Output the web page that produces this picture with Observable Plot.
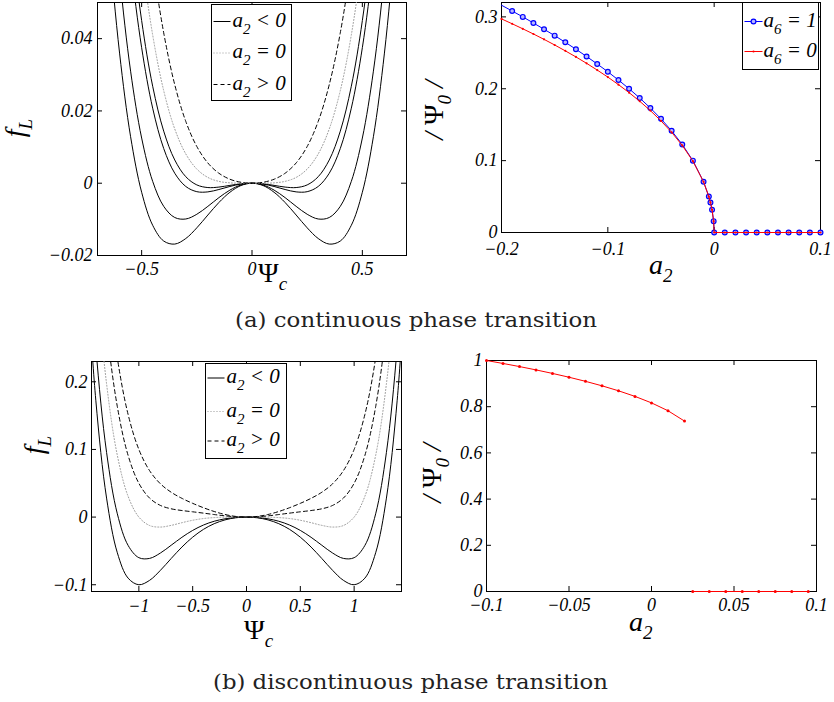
<!DOCTYPE html>
<html><head><meta charset="utf-8">
<script src="https://cdn.jsdelivr.net/npm/d3@7"></script>
<script src="https://cdn.jsdelivr.net/npm/@observablehq/plot@0.6"></script>
<style>
body{margin:0;background:#fff;}
#wrap{position:relative;width:834px;height:702px;overflow:hidden;background:#fff;}
</style></head><body><div id="wrap"></div>
<script>
// ---------- (a) left: Landau free energy, continuous transition ----------
const psiA = [-0.7,-0.65,-0.6,-0.55,-0.5,-0.45,-0.4,-0.35,-0.3,-0.25,-0.2,-0.15,-0.1,-0.05,0,0.05,0.1,0.15,0.2,0.25,0.3,0.35,0.4,0.45,0.5,0.55,0.6,0.65,0.7];
const fA_neg1 = [0.1127,0.06866,0.036,0.01286,-0.0025,-0.01164,-0.016,-0.01684,-0.0153,-0.01234,-0.0088,-0.00534,-0.0025,-0.00064,0,-0.00064,-0.0025,-0.00534,-0.0088,-0.01234,-0.0153,-0.01684,-0.016,-0.01164,-0.0025,0.01286,0.036,0.06866,0.1127];
const fA_neg2 = [0.1421,0.094,0.0576,0.031,0.0125,0.00051,-0.0064,-0.00949,-0.0099,-0.00859,-0.0064,-0.00399,-0.0019,-0.00049,0,-0.00049,-0.0019,-0.00399,-0.0064,-0.00859,-0.0099,-0.00949,-0.0064,0.00051,0.0125,0.031,0.0576,0.094,0.1421];
const fA_neg3 = [0.1911,0.13626,0.0936,0.06126,0.0375,0.02076,0.0096,0.00276,-0.0009,-0.00234,-0.0024,-0.00174,-0.0009,-0.00024,0,-0.00024,-0.0009,-0.00174,-0.0024,-0.00234,-0.0009,0.00276,0.0096,0.02076,0.0375,0.06126,0.0936,0.13626,0.1911];
const fA_neg4 = [0.2058,0.14893,0.1044,0.07033,0.045,0.02683,0.0144,0.00643,0.0018,-0.00047,-0.0012,-0.00107,-0.0006,-0.00017,0,-0.00017,-0.0006,-0.00107,-0.0012,-0.00047,0.0018,0.00643,0.0144,0.02683,0.045,0.07033,0.1044,0.14893,0.2058];
const fA_zero = [0.2401,0.17851,0.1296,0.09151,0.0625,0.04101,0.0256,0.01501,0.0081,0.00391,0.0016,0.00051,0.0001,0.00001,0,0.00001,0.0001,0.00051,0.0016,0.00391,0.0081,0.01501,0.0256,0.04101,0.0625,0.09151,0.1296,0.17851,0.2401];
const fA_pos = [0.2891,0.2208,0.1656,0.1218,0.0875,0.06126,0.0416,0.02726,0.0171,0.01016,0.0056,0.00276,0.0011,0.00026,0,0.00026,0.0011,0.00276,0.0056,0.01016,0.0171,0.02726,0.0416,0.06126,0.0875,0.1218,0.1656,0.2208,0.2891];
const xTicksA1 = [-0.5, 0, 0.5];
const yTicksA1 = [-0.02, 0, 0.02, 0.04];

// ---------- (a) right: order parameter vs a2 ----------
const a2A = [-0.2,-0.19,-0.18,-0.17,-0.16,-0.15,-0.14,-0.13,-0.12,-0.11,-0.1,-0.09,-0.08,-0.07,-0.06,-0.05,-0.04,-0.03,-0.02,-0.01,-0.005,-0.0035,-0.002,-0.0005,0,0.01,0.02,0.03,0.04,0.05,0.06,0.07,0.08,0.09,0.1];
const psiA6one = [0.3162,0.3082,0.3,0.2915,0.2828,0.2739,0.2646,0.255,0.2449,0.2345,0.2236,0.2121,0.2,0.1871,0.1732,0.1581,0.1414,0.1225,0.1,0.0707,0.05,0.0418,0.0316,0.0158,0,0,0,0,0,0,0,0,0,0,0];
const psiA6zero = [0.2972,0.2904,0.2834,0.2762,0.2687,0.2609,0.2527,0.2443,0.2354,0.226,0.2162,0.2057,0.1946,0.1826,0.1696,0.1553,0.1394,0.1211,0.0993,0.0705,0.0499,0.0418,0.0316,0.0158,0,0,0,0,0,0,0,0,0,0,0];
const xTicksA2 = [-0.2, -0.1, 0, 0.1];
const yTicksA2 = [0, 0.1, 0.2, 0.3];

// ---------- (b) left: Landau free energy, discontinuous transition ----------
const psiB = [-1.5,-1.4,-1.3,-1.2,-1.1,-1,-0.9,-0.8,-0.7,-0.6,-0.5,-0.4,-0.3,-0.2,-0.1,0,0.1,0.2,0.3,0.4,0.5,0.6,0.7,0.8,0.9,1,1.1,1.2,1.3,1.4,1.5];
const fB_neg1 = [0.40781,0.17279,0.02807,-0.05276,-0.09025,-0.1,-0.09347,-0.07875,-0.06125,-0.04429,-0.02969,-0.01815,-0.00974,-0.00415,-0.00101,0,-0.00101,-0.00415,-0.00974,-0.01815,-0.02969,-0.04429,-0.06125,-0.07875,-0.09347,-0.1,-0.09025,-0.05276,0.02807,0.17279,0.40781];
const fB_neg2 = [0.49781,0.25119,0.09567,0.00484,-0.04185,-0.06,-0.06107,-0.05315,-0.04165,-0.02989,-0.01969,-0.01175,-0.00614,-0.00255,-0.00061,0,-0.00061,-0.00255,-0.00614,-0.01175,-0.01969,-0.02989,-0.04165,-0.05315,-0.06107,-0.06,-0.04185,0.00484,0.09567,0.25119,0.49781];
const fB_zero = [0.63281,0.36879,0.19707,0.09124,0.03075,0,-0.01247,-0.01475,-0.01225,-0.00829,-0.00469,-0.00215,-0.00074,-0.00015,-0.00001,0,-0.00001,-0.00015,-0.00074,-0.00215,-0.00469,-0.00829,-0.01225,-0.01475,-0.01247,0,0.03075,0.09124,0.19707,0.36879,0.63281];
const fB_pos1 = [0.74531,0.46679,0.28157,0.16324,0.09125,0.05,0.02803,0.01725,0.01225,0.00971,0.00781,0.00585,0.00376,0.00185,0.00049,0,0.00049,0.00185,0.00376,0.00585,0.00781,0.00971,0.01225,0.01725,0.02803,0.05,0.09125,0.16324,0.28157,0.46679,0.74531];
const fB_pos2 = [0.85781,0.56479,0.36607,0.23524,0.15175,0.1,0.06853,0.04925,0.03675,0.02771,0.02031,0.01385,0.00826,0.00385,0.00099,0,0.00099,0.00385,0.00826,0.01385,0.02031,0.02771,0.03675,0.04925,0.06853,0.1,0.15175,0.23524,0.36607,0.56479,0.85781];
const xTicksB1 = [-1, -0.5, 0, 0.5, 1];
const yTicksB1 = [-0.1, 0, 0.1, 0.2];

// ---------- (b) right: order parameter vs a2 (jump) ----------
const a2B_ordered = [-0.1,-0.09,-0.08,-0.07,-0.06,-0.05,-0.04,-0.03,-0.02,-0.01,0,0.01,0.02];
const psiB_ordered = [1.0,0.9872,0.9737,0.9593,0.944,0.9276,0.9098,0.8904,0.8689,0.8446,0.8165,0.7825,0.7377];
const a2B_disordered = [0.025,0.035,0.045,0.055,0.065,0.075,0.085,0.095];
const psiB_disordered = [0,0,0,0,0,0,0,0];
const xTicksB2 = [-0.1, -0.05, 0, 0.05, 0.1];
const yTicksB2 = [0, 0.2, 0.4, 0.6, 0.8, 1];

// ---------- helpers ----------
const wrap = document.getElementById("wrap");
const SERIF = "'Liberation Serif','Times New Roman',serif";
const fmt = d => (d < 0 ? "\u2212" : "") + Math.abs(d);
const longForm = (xs, groups) => groups.flatMap(([k, ys]) => xs.map((x, i) => ({x, y: ys[i], k})));
const pairs = (xs, ys) => xs.map((x, i) => ({x, y: ys[i]}));

function panel({left, top, width, height, ml, mr, mt, mb, xdom, ydom, xt, yt, xpad, ypad, marks}) {
  const fw = width - ml - mr, fh = height - mt - mb;
  const svg = Plot.plot({
    width, height, marginLeft: ml, marginRight: mr, marginTop: mt, marginBottom: mb,
    x: {domain: xdom}, y: {domain: ydom},
    style: {color: "black", background: "white", overflow: "visible"},
    marks: [
      Plot.frame({stroke: "black", strokeWidth: 1}),
      Plot.tickX(xt, {x: d => d, insetTop: fh - 5, stroke: "black"}),
      Plot.tickX(xt, {x: d => d, insetBottom: fh - 5, stroke: "black"}),
      Plot.tickY(yt, {y: d => d, insetRight: fw - 5, stroke: "black"}),
      Plot.tickY(yt, {y: d => d, insetLeft: fw - 5, stroke: "black"}),
      Plot.axisX(xt, {tickSize: 0, tickPadding: xpad, tickFormat: fmt, label: null}),
      Plot.axisY(yt, {tickSize: 0, tickPadding: ypad, tickFormat: fmt, label: null}),
      ...marks
    ]
  });
  svg.style.position = "absolute";
  svg.style.left = left + "px";
  svg.style.top = top + "px";
  wrap.appendChild(svg);
  const sel = d3.select(svg);
  sel.selectAll("text")
    .style("font-family", SERIF).style("font-style", "italic").style("font-size", "18px")
    .style("font-variant", "normal");
  return sel;
}

function rich(g, x, y, parts, {size = 28, subSize = 19, subDy = 8, anchor = "start", rotate = false} = {}) {
  const t = g.append("text").attr("text-anchor", anchor).attr("fill", "black")
    .style("font-family", SERIF).style("font-size", size + "px").style("font-style", "italic");
  if (rotate) t.attr("transform", `translate(${x},${y}) rotate(-90)`);
  else t.attr("x", x).attr("y", y);
  let cur = 0;
  for (const p of parts) {
    const ts = t.append("tspan").text(p.t);
    const target = p.sub ? subDy : 0;
    if (target !== cur) ts.attr("dy", target - cur);
    cur = target;
    if (p.sub) ts.style("font-size", subSize + "px");
    if (p.upright) ts.style("font-style", "normal");
  }
  return t;
}

function fLegend(g, x0, y0, w, h, rows) {
  g.append("rect").attr("x", x0).attr("y", y0).attr("width", w).attr("height", h)
    .attr("fill", "white").attr("stroke", "black").attr("stroke-width", 1);
  const styles = [
    {stroke: "black", dash: null},
    {stroke: "#999", dash: "1,2"},
    {stroke: "black", dash: "4,3"}
  ];
  const ops = [" < 0", " = 0", " > 0"];
  rows.forEach((ry, i) => {
    const l = g.append("line").attr("x1", x0 + 2).attr("x2", x0 + 19).attr("y1", ry).attr("y2", ry)
      .attr("stroke", styles[i].stroke).attr("stroke-width", 1);
    if (styles[i].dash) l.attr("stroke-dasharray", styles[i].dash);
    rich(g, x0 + 21, ry + 5, [{t: "a"}, {t: "2", sub: true}, {t: ops[i]}], {size: 21, subSize: 15, subDy: 7});
  });
}

// ---------- panel (a) left ----------
const solidA = longForm(psiA, [["n1", fA_neg1], ["n2", fA_neg2], ["n3", fA_neg3], ["n4", fA_neg4]]);
const gA1 = panel({
  left: 0, top: 0, width: 420, height: 300, ml: 97, mr: 14, mt: 2, mb: 45,
  xdom: [-0.7, 0.7], ydom: [-0.02, 0.05], xt: xTicksA1, yt: yTicksA1, xpad: 7, ypad: 5,
  marks: [
    Plot.line(solidA, {x: "x", y: "y", z: "k", stroke: "black", strokeWidth: 1, curve: "catmull-rom", clip: true}),
    Plot.line(pairs(psiA, fA_zero), {x: "x", y: "y", stroke: "#999", strokeWidth: 1, strokeDasharray: "1,2", curve: "catmull-rom", clip: true}),
    Plot.line(pairs(psiA, fA_pos), {x: "x", y: "y", stroke: "black", strokeWidth: 1, strokeDasharray: "4,3", curve: "catmull-rom", clip: true})
  ]
});
fLegend(gA1, 211.5, 4.5, 80, 96, [21.5, 53, 84.5]);
rich(gA1, 24, 128, [{t: "f"}, {t: "L", sub: true}], {anchor: "middle", rotate: true});
rich(gA1, 258, 282, [{t: "\u03A8", upright: true}, {t: "c", sub: true}]);

// ---------- panel (a) right ----------
const blueA = pairs(a2A, psiA6one);
const redA = pairs(a2A, psiA6zero);
const gA2 = panel({
  left: 420, top: 0, width: 414, height: 300, ml: 81, mr: 14, mt: 2, mb: 68,
  xdom: [-0.2, 0.1], ydom: [0, 0.32], xt: xTicksA2, yt: yTicksA2, xpad: 10, ypad: 4,
  marks: [
    Plot.line(blueA, {x: "x", y: "y", stroke: "blue", strokeWidth: 1}),
    Plot.dot(blueA.filter(d => d.x > -0.2), {x: "x", y: "y", r: 2.4, stroke: "blue", strokeWidth: 1.2, fill: "#b8b8ff"}),
    Plot.line(redA, {x: "x", y: "y", stroke: "red", strokeWidth: 1}),
    Plot.dot(redA, {x: "x", y: "y", r: 1.1, fill: "red"})
  ]
});
{
  const g = gA2, x0 = 322.5, y0 = 2.5;
  g.append("rect").attr("x", x0).attr("y", y0).attr("width", 76).attr("height", 67)
    .attr("fill", "white").attr("stroke", "black").attr("stroke-width", 1);
  g.append("line").attr("x1", x0 + 2).attr("x2", x0 + 20).attr("y1", 21.5).attr("y2", 21.5).attr("stroke", "blue");
  g.append("circle").attr("cx", x0 + 11).attr("cy", 21.5).attr("r", 2.4).attr("fill", "#b8b8ff").attr("stroke", "blue").attr("stroke-width", 1.2);
  g.append("line").attr("x1", x0 + 2).attr("x2", x0 + 20).attr("y1", 51.5).attr("y2", 51.5).attr("stroke", "red");
  g.append("circle").attr("cx", x0 + 11).attr("cy", 51.5).attr("r", 1.1).attr("fill", "red");
  rich(g, x0 + 21, 26.5, [{t: "a"}, {t: "6", sub: true}, {t: " = 1"}], {size: 21, subSize: 15, subDy: 7});
  rich(g, x0 + 21, 56.5, [{t: "a"}, {t: "6", sub: true}, {t: " = 0"}], {size: 21, subSize: 15, subDy: 7});
}
rich(gA2, 23, 110, [{t: "/ "}, {t: "\u03A8", upright: true}, {t: "0", sub: true}, {t: " /"}], {anchor: "middle", rotate: true});
rich(gA2, 229, 274, [{t: "a"}, {t: "2", sub: true}]);

// ---------- panel (b) left ----------
const solidB = longForm(psiB, [["n1", fB_neg1], ["n2", fB_neg2]]);
const dashB = longForm(psiB, [["p1", fB_pos1], ["p2", fB_pos2]]);
const gB1 = panel({
  left: 0, top: 350, width: 420, height: 300, ml: 91, mr: 19, mt: 11, mb: 59,
  xdom: [-1.44, 1.44], ydom: [-0.11, 0.23], xt: xTicksB1, yt: yTicksB1, xpad: 8, ypad: 4,
  marks: [
    Plot.line(solidB, {x: "x", y: "y", z: "k", stroke: "black", strokeWidth: 1, curve: "catmull-rom", clip: true}),
    Plot.line(pairs(psiB, fB_zero), {x: "x", y: "y", stroke: "#999", strokeWidth: 1, strokeDasharray: "1,2", curve: "catmull-rom", clip: true}),
    Plot.line(dashB, {x: "x", y: "y", z: "k", stroke: "black", strokeWidth: 1, strokeDasharray: "4,3", curve: "catmull-rom", clip: true})
  ]
});
fLegend(gB1, 205.5, 13.5, 81, 95, [28, 61.5, 91]);
rich(gB1, 43, 95, [{t: "f"}, {t: "L", sub: true}], {anchor: "middle", rotate: true});
rich(gB1, 244, 289, [{t: "\u03A8", upright: true}, {t: "c", sub: true}]);

// ---------- panel (b) right ----------
const gB2 = panel({
  left: 420, top: 350, width: 414, height: 300, ml: 66, mr: 18, mt: 10, mb: 59,
  xdom: [-0.1, 0.1], ydom: [0, 1], xt: xTicksB2, yt: yTicksB2, xpad: 7, ypad: 4,
  marks: [
    Plot.line(pairs(a2B_ordered, psiB_ordered), {x: "x", y: "y", stroke: "red", strokeWidth: 1}),
    Plot.dot(pairs(a2B_ordered, psiB_ordered), {x: "x", y: "y", r: 1.5, fill: "red"}),
    Plot.line(pairs(a2B_disordered, psiB_disordered), {x: "x", y: "y", stroke: "red", strokeWidth: 1.2}),
    Plot.dot(pairs(a2B_disordered, psiB_disordered), {x: "x", y: "y", r: 1.5, fill: "red"})
  ]
});
rich(gB2, 21, 123, [{t: "/ "}, {t: "\u03A8", upright: true}, {t: "0", sub: true}, {t: " /"}], {anchor: "middle", rotate: true});
rich(gB2, 209, 281, [{t: "a"}, {t: "2", sub: true}]);

// ---------- captions ----------
const cap = d3.select(wrap).append("svg").attr("width", 834).attr("height", 702)
  .style("position", "absolute").style("left", "0px").style("top", "0px").style("pointer-events", "none");
cap.append("text").attr("x", 235).attr("y", 327).style("font-family", "'DejaVu Serif',serif").style("font-size", "20px")
  .attr("fill", "#222").attr("textLength", 362).attr("lengthAdjust", "spacingAndGlyphs").text("(a) continuous phase transition");
cap.append("text").attr("x", 213).attr("y", 689).style("font-family", "'DejaVu Serif',serif").style("font-size", "20px")
  .attr("fill", "#222").attr("textLength", 395).attr("lengthAdjust", "spacingAndGlyphs").text("(b) discontinuous phase transition");
</script>
</body></html>
